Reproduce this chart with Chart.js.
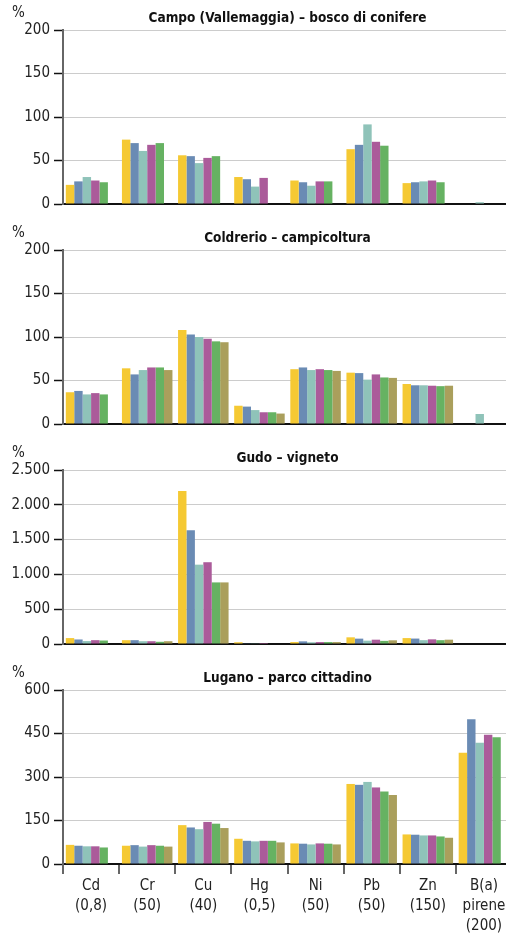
<!DOCTYPE html>
<html>
<head>
<meta charset="utf-8">
<script src="https://cdn.jsdelivr.net/npm/chart.js@4.4.1/dist/chart.umd.min.js"></script>
<style>
    html, body { margin: 0; padding: 0; background: #fff; width: 506px; overflow: hidden; }
    .panel { position: relative; width: 512px; }
</style>
</head>
<body>
<div class="panel" style="height:220px"><canvas id="chart-campo"></canvas></div>
<div class="panel" style="height:220px"><canvas id="chart-coldrerio"></canvas></div>
<div class="panel" style="height:220px"><canvas id="chart-gudo"></canvas></div>
<div class="panel" style="height:273px"><canvas id="chart-lugano"></canvas></div>
<script>
// Categories (element + guide value)
const categories = [
    ['Cd', '(0,8)'], ['Cr', '(50)'], ['Cu', '(40)'], ['Hg', '(0,5)'],
    ['Ni', '(50)'], ['Pb', '(50)'], ['Zn', '(150)'], ['B(a)', 'pirene', '(200)']
];
const seriesNames = ['Serie 1', 'Serie 2', 'Serie 3', 'Serie 4', 'Serie 5', 'Serie 6'];

// Values per site, one row per series (null = no measurement)
const campo = [
    [22, 74, 56, 31, 27, 63, 24, 0],
    [26, 70, 55, 28.5, 25, 68, 25, 0],
    [31, 61, 47, 20, 21, 91.5, 26, 2],
    [27, 68, 53, 30, 26, 71.5, 27, 0],
    [25, 70, 55, 0, 26, 67, 25, 0],
    [null, null, null, null, null, null, null, null]
];
const coldrerio = [
    [36.5, 64, 108, 21, 63, 59, 46, 0],
    [38, 57, 103, 20, 65, 58.5, 44.5, 0],
    [34, 62, 100, 16, 62, 51, 44.5, 11.5],
    [35.5, 65, 98, 13.5, 63, 57, 44, 0],
    [34, 65, 95, 13.5, 62, 53.5, 43.5, 0],
    [null, 62, 94, 12, 61, 53, 44, 0]
];
const gudo = [
    [85, 55, 2200, 25, 28, 96, 85, null],
    [65, 55, 1635, 10, 38, 77, 78, null],
    [42, 40, 1140, 10, 25, 48, 55, null],
    [55, 40, 1175, 14, 28, 62, 67, null],
    [50, 32, 885, 0, 28, 45, 55, null],
    [null, 40, 885, 0, 28, 53, 62, null]
];
const lugano = [
    [66, 63, 134, 87, 71, 276, 102, 384],
    [63, 65, 126, 80, 70, 273, 101, 499],
    [61, 60, 120, 78, 67.5, 283, 98.5, 418],
    [61, 65, 145, 80, 71, 264, 98.5, 446],
    [57, 63, 139, 80, 70, 250, 95, 437],
    [null, 60, 124, 74.5, 67.5, 238, 90.5, null]
];

const colors = ['#f5c933', '#6a8bb4', '#8fc3b9', '#ab5b9a', '#66b262', '#aa9f5c'];
const FONT = "'DejaVu Sans Condensed', 'Liberation Sans Narrow', sans-serif";

function fmtThousands(v) {
    return String(v).replace(/\B(?=(\d{3})+(?!\d))/g, '.');
}

// title + "%" unit drawn over the plot area
const panelDecor = {
    id: 'panelDecor',
    afterDraw(chart, args, opts) {
        const ctx = chart.ctx;
        const a = chart.chartArea;
        ctx.save();
        ctx.fillStyle = '#111';
        ctx.textBaseline = 'middle';
        ctx.textAlign = 'center';
        ctx.font = 'bold 13.5px ' + FONT;
        ctx.fillText(opts.text, (a.left + a.right) / 2, 18);
        ctx.textAlign = 'left';
        ctx.font = '15px ' + FONT;
        ctx.fillStyle = '#222';
        ctx.fillText('%', 12, 13);
        ctx.restore();
    }
};

function makePanel(id, title, values, max, step, showX) {
    const ctx = document.getElementById(id).getContext('2d');
    return new Chart(ctx, {
        type: 'bar',
        data: {
            labels: categories,
            datasets: values.map((row, i) => ({
                label: seriesNames[i],
                data: row,
                backgroundColor: colors[i],
                borderWidth: 0,
                categoryPercentage: 0.9,
                barPercentage: 1.0
            }))
        },
        options: {
            responsive: true,
            maintainAspectRatio: false,
            animation: false,
            layout: { padding: { top: 30, bottom: 0, left: 0, right: 0 } },
            plugins: {
                legend: { display: false },
                tooltip: { enabled: false },
                panelDecor: { text: title }
            },
            scales: {
                x: {
                    afterFit: (scale) => { scale.height = showX ? 69 : 16; },
                    border: { color: '#111', width: 2 },
                    grid: {
                        display: showX,
                        offset: true,
                        drawOnChartArea: false,
                        tickLength: 10,
                        tickColor: '#666',
                        lineWidth: 2
                    },
                    ticks: {
                        display: showX,
                        color: '#222',
                        font: { family: FONT, size: 15, lineHeight: 1.33 },
                        padding: 2,
                        maxRotation: 0,
                        autoSkip: false
                    }
                },
                y: {
                    min: 0,
                    max: max,
                    afterFit: (scale) => { scale.width = 63; },
                    border: { color: '#666', width: 2 },
                    grid: {
                        color: '#cccccc',
                        lineWidth: 1,
                        tickColor: '#111',
                        tickWidth: 1.5,
                        tickLength: 9
                    },
                    ticks: {
                        stepSize: step,
                        color: '#222',
                        padding: 4,
                        font: { family: FONT, size: 15 },
                        callback: (v) => fmtThousands(v)
                    }
                }
            }
        },
        plugins: [panelDecor]
    });
}

makePanel('chart-campo', 'Campo (Vallemaggia) \u2013 bosco di conifere', campo, 200, 50, false);
makePanel('chart-coldrerio', 'Coldrerio \u2013 campicoltura', coldrerio, 200, 50, false);
makePanel('chart-gudo', 'Gudo \u2013 vigneto', gudo, 2500, 500, false);
makePanel('chart-lugano', 'Lugano \u2013 parco cittadino', lugano, 600, 150, true);
</script>
</body>
</html>
